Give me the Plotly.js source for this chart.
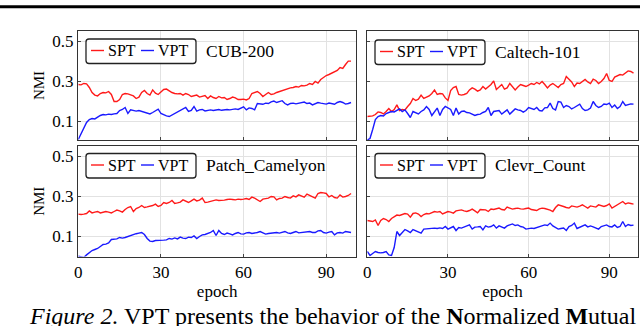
<!DOCTYPE html>
<html>
<head>
<meta charset="utf-8">
<script src="https://cdn.plot.ly/plotly-3.0.1.min.js"></script>
<style>
  html, body { margin: 0; padding: 0; background: #fff; }
  #chart { width: 640px; height: 326px; }
</style>
</head>
<body>
<div id="chart"></div>
<script>
// ---------------- DATA ----------------
const epochs = Array.from({length: 100}, (_, i) => i);
const xTickVals = [0, 30, 60, 90];
const xTickText = ['0', '30', '60', '90'];
const yTickVals = [0.1, 0.3, 0.5];
const yTickText = ['0.1', '0.3', '0.5'];
const seriesNames = ['SPT', 'VPT'];
const datasetNames = ['CUB-200', 'Caltech-101', 'Patch_Camelyon', 'Clevr_Count'];

const cubSPT = [0.285,0.283,0.29,0.288,0.27,0.245,0.232,0.228,0.24,0.245,0.243,0.25,0.235,0.2,0.2,0.21,0.235,0.24,0.238,0.232,
0.228,0.215,0.222,0.245,0.255,0.24,0.232,0.258,0.242,0.235,0.25,0.26,0.262,0.252,0.245,0.24,0.238,0.24,0.232,0.24,
0.235,0.225,0.228,0.232,0.222,0.225,0.23,0.215,0.228,0.22,0.215,0.225,0.218,0.22,0.21,0.215,0.222,0.218,0.21,0.21,
0.212,0.208,0.215,0.24,0.245,0.25,0.24,0.225,0.235,0.245,0.235,0.238,0.245,0.25,0.255,0.258,0.262,0.268,0.27,0.275,
0.272,0.28,0.278,0.282,0.29,0.285,0.3,0.292,0.31,0.322,0.33,0.335,0.342,0.348,0.355,0.37,0.365,0.385,0.402,0.402];
const cubVPT = [0.01,0.04,0.068,0.095,0.11,0.115,0.113,0.122,0.13,0.135,0.133,0.137,0.135,0.138,0.14,0.155,0.16,0.17,0.14,0.158,
0.155,0.152,0.155,0.15,0.148,0.142,0.138,0.145,0.155,0.162,0.14,0.133,0.128,0.125,0.132,0.138,0.148,0.155,0.16,0.17,
0.15,0.155,0.175,0.152,0.158,0.16,0.153,0.156,0.158,0.155,0.158,0.16,0.156,0.158,0.16,0.158,0.162,0.163,0.16,0.168,
0.173,0.158,0.168,0.165,0.158,0.19,0.188,0.186,0.192,0.19,0.198,0.202,0.195,0.2,0.204,0.19,0.183,0.19,0.192,0.188,
0.19,0.195,0.197,0.19,0.192,0.183,0.19,0.195,0.192,0.19,0.187,0.192,0.19,0.186,0.195,0.2,0.195,0.187,0.19,0.195];

const calSPT = [0.125,0.127,0.128,0.135,0.148,0.145,0.138,0.15,0.165,0.15,0.16,0.183,0.155,0.16,0.158,0.175,0.19,0.215,0.205,0.212,
0.232,0.215,0.22,0.228,0.24,0.258,0.235,0.24,0.238,0.218,0.205,0.255,0.27,0.275,0.235,0.232,0.235,0.24,0.258,0.268,
0.262,0.252,0.258,0.275,0.262,0.272,0.285,0.303,0.26,0.272,0.285,0.262,0.268,0.29,0.275,0.258,0.272,0.285,0.28,0.275,
0.282,0.29,0.285,0.295,0.288,0.3,0.285,0.268,0.282,0.29,0.28,0.27,0.285,0.29,0.325,0.31,0.298,0.275,0.292,0.29,
0.3,0.31,0.298,0.29,0.312,0.305,0.29,0.3,0.315,0.34,0.305,0.3,0.322,0.33,0.335,0.332,0.345,0.353,0.35,0.342];
const calVPT = [0.008,0.015,0.06,0.11,0.125,0.13,0.128,0.14,0.145,0.15,0.148,0.155,0.163,0.15,0.158,0.14,0.12,0.15,0.142,0.138,
0.15,0.158,0.175,0.16,0.13,0.152,0.167,0.13,0.16,0.175,0.168,0.16,0.13,0.167,0.137,0.15,0.152,0.145,0.143,0.138,
0.13,0.135,0.137,0.145,0.15,0.17,0.13,0.15,0.153,0.155,0.137,0.148,0.158,0.137,0.152,0.163,0.158,0.155,0.147,0.155,
0.17,0.163,0.16,0.17,0.155,0.153,0.168,0.17,0.192,0.165,0.158,0.2,0.197,0.17,0.18,0.175,0.163,0.17,0.178,0.187,
0.165,0.155,0.158,0.167,0.2,0.18,0.17,0.175,0.187,0.185,0.192,0.17,0.182,0.165,0.175,0.2,0.18,0.185,0.188,0.187];

const patSPT = [0.212,0.21,0.212,0.215,0.228,0.218,0.222,0.225,0.218,0.22,0.225,0.222,0.218,0.225,0.232,0.228,0.222,0.235,0.245,0.25,
0.225,0.24,0.245,0.255,0.245,0.248,0.25,0.255,0.262,0.25,0.255,0.27,0.265,0.27,0.28,0.265,0.268,0.272,0.283,0.275,
0.27,0.278,0.287,0.278,0.282,0.292,0.27,0.272,0.275,0.28,0.283,0.28,0.28,0.282,0.285,0.287,0.285,0.283,0.287,0.285,
0.287,0.29,0.285,0.297,0.292,0.285,0.275,0.287,0.29,0.292,0.3,0.298,0.283,0.29,0.292,0.3,0.295,0.292,0.303,0.298,
0.308,0.302,0.297,0.312,0.305,0.302,0.292,0.315,0.32,0.318,0.315,0.298,0.305,0.295,0.292,0.308,0.297,0.3,0.305,0.315];
const patVPT = [0.002,0.0,-0.005,0.008,0.02,0.03,0.035,0.04,0.05,0.06,0.062,0.068,0.085,0.087,0.088,0.095,0.092,0.095,0.1,0.105,
0.112,0.114,0.117,0.12,0.11,0.09,0.077,0.075,0.08,0.08,0.079,0.082,0.083,0.09,0.087,0.093,0.088,0.097,0.092,0.09,
0.097,0.095,0.103,0.09,0.1,0.108,0.11,0.115,0.12,0.13,0.105,0.13,0.115,0.11,0.117,0.113,0.108,0.115,0.12,0.113,
0.112,0.118,0.12,0.115,0.117,0.12,0.125,0.118,0.112,0.115,0.117,0.118,0.12,0.117,0.12,0.125,0.118,0.115,0.12,0.125,
0.118,0.12,0.12,0.122,0.125,0.12,0.12,0.128,0.13,0.12,0.117,0.122,0.125,0.108,0.118,0.12,0.117,0.125,0.122,0.12];

const cleSPT = [0.18,0.178,0.175,0.183,0.155,0.18,0.19,0.185,0.175,0.19,0.2,0.207,0.205,0.21,0.215,0.212,0.197,0.215,0.218,0.212,
0.2,0.21,0.215,0.213,0.218,0.225,0.222,0.225,0.213,0.22,0.225,0.222,0.217,0.228,0.23,0.233,0.228,0.225,0.23,0.237,
0.228,0.218,0.235,0.235,0.233,0.225,0.237,0.235,0.24,0.242,0.235,0.233,0.247,0.24,0.237,0.24,0.242,0.238,0.237,0.24,
0.242,0.235,0.233,0.23,0.238,0.242,0.24,0.237,0.232,0.225,0.245,0.258,0.255,0.25,0.245,0.242,0.253,0.25,0.247,0.252,
0.258,0.25,0.242,0.253,0.25,0.247,0.258,0.252,0.25,0.255,0.263,0.242,0.25,0.255,0.267,0.275,0.263,0.268,0.265,0.262];
const cleVPT = [0.025,0.005,0.015,0.025,0.02,0.018,0.02,0.025,0.008,0.005,0.045,0.125,0.105,0.12,0.135,0.128,0.12,0.135,0.13,0.125,
0.117,0.137,0.138,0.142,0.14,0.142,0.14,0.143,0.14,0.15,0.137,0.145,0.15,0.13,0.145,0.142,0.147,0.15,0.158,0.137,
0.147,0.148,0.15,0.133,0.153,0.147,0.15,0.158,0.142,0.153,0.148,0.142,0.153,0.158,0.163,0.155,0.158,0.15,0.147,0.137,
0.14,0.142,0.14,0.145,0.15,0.155,0.158,0.155,0.167,0.153,0.145,0.137,0.14,0.142,0.13,0.15,0.155,0.167,0.14,0.145,
0.15,0.158,0.148,0.153,0.148,0.142,0.137,0.15,0.155,0.158,0.15,0.148,0.158,0.145,0.15,0.175,0.15,0.16,0.155,0.157];

// ---------------- LAYOUT HELPERS ----------------
const W = 640, H = 326;
const px = x => x / W;
const py = y => 1 - y / H;
const FONT = 'Liberation Serif, Times New Roman, serif';
const RED = '#ff1a1a', BLUE = '#1a1aff';

const panels = [
  {spt: cubSPT, vpt: cubVPT, xa: 'x',  ya: 'y',  name: datasetNames[0], bx: 86,  by: 39},
  {spt: calSPT, vpt: calVPT, xa: 'x2', ya: 'y2', name: datasetNames[1], bx: 375, by: 40},
  {spt: patSPT, vpt: patVPT, xa: 'x3', ya: 'y3', name: datasetNames[2], bx: 86,  by: 153.5},
  {spt: cleSPT, vpt: cleVPT, xa: 'x4', ya: 'y4', name: datasetNames[3], bx: 375, by: 153.5}
];

const traces = [];
panels.forEach(p => {
  traces.push({x: epochs, y: p.spt, xaxis: p.xa, yaxis: p.ya, type: 'scatter', mode: 'lines',
    name: seriesNames[0], line: {color: RED, width: 1.4}, showlegend: false});
  traces.push({x: epochs, y: p.vpt, xaxis: p.xa, yaxis: p.ya, type: 'scatter', mode: 'lines',
    name: seriesNames[1], line: {color: BLUE, width: 1.4}, showlegend: false});
});

function xAxis(domain, range, anchor, showLabels, title) {
  const a = {
    domain: domain, range: range, anchor: anchor,
    tickvals: xTickVals, ticktext: xTickText, showticklabels: showLabels,
    ticks: 'inside', ticklen: 3, tickcolor: '#444', tickwidth: 1,
    showgrid: true, gridcolor: '#e2e2e2', gridwidth: 1, zeroline: false,
    showline: true, linecolor: '#333', linewidth: 1.3, mirror: true,
    tickfont: {family: FONT, size: 17, color: '#000'}
  };
  if (title) a.title = {text: title, font: {family: FONT, size: 17, color: '#000'}, standoff: 1};
  return a;
}
function yAxis(domain, range, anchor, showLabels, title) {
  const a = {
    domain: domain, range: range, anchor: anchor,
    tickvals: yTickVals, ticktext: yTickText, showticklabels: showLabels,
    ticks: 'inside', ticklen: 3, tickcolor: '#444', tickwidth: 1,
    showgrid: true, gridcolor: '#e2e2e2', gridwidth: 1, zeroline: false,
    showline: true, linecolor: '#333', linewidth: 1.3, mirror: true,
    tickfont: {family: FONT, size: 17, color: '#000'}
  };
  if (title) a.title = {text: title, font: {family: FONT, size: 15, color: '#000'}, standoff: 4};
  return a;
}

const leftDom = [px(78.3), px(356)];
const rightDom = [px(367.3), px(637.7)];
const topDom = [py(140), py(31)];
const botDom = [py(256.5), py(146)];
const topRange = [0.0075, 0.5525];
const botRange = [0.0, 0.5525];
const leftRange = [0, 100.8];
const rightRange = [0, 100.56];

// legend-like boxes, drawn as shapes + annotations
const shapes = [];
const annotations = [];
function roundRect(x0, y0, x1, y1, r) {
  const X = v => px(v).toFixed(5), Y = v => py(v).toFixed(5);
  return `M${X(x0 + r)},${Y(y0)} L${X(x1 - r)},${Y(y0)} Q${X(x1)},${Y(y0)} ${X(x1)},${Y(y0 + r)} ` +
         `L${X(x1)},${Y(y1 - r)} Q${X(x1)},${Y(y1)} ${X(x1 - r)},${Y(y1)} L${X(x0 + r)},${Y(y1)} ` +
         `Q${X(x0)},${Y(y1)} ${X(x0)},${Y(y1 - r)} L${X(x0)},${Y(y0 + r)} Q${X(x0)},${Y(y0)} ${X(x0 + r)},${Y(y0)} Z`;
}
panels.forEach(p => {
  const bx = p.bx, by = p.by, bw = 110, bh = 24.5;
  shapes.push({type: 'path', xref: 'paper', yref: 'paper', path: roundRect(bx, by, bx + bw, by + bh, 3),
    line: {color: '#222', width: 1.3}, fillcolor: 'rgba(255,255,255,0.9)'});
  const ly = by + 11.5;
  shapes.push({type: 'line', xref: 'paper', yref: 'paper', x0: px(bx + 5), x1: px(bx + 18), y0: py(ly), y1: py(ly),
    line: {color: RED, width: 1.4}});
  shapes.push({type: 'line', xref: 'paper', yref: 'paper', x0: px(bx + 55), x1: px(bx + 68), y0: py(ly), y1: py(ly),
    line: {color: BLUE, width: 1.4}});
  annotations.push({xref: 'paper', yref: 'paper', x: px(bx + 20), y: py(ly + 0.5), xanchor: 'left', yanchor: 'middle',
    text: seriesNames[0], showarrow: false, font: {family: FONT, size: 16, color: '#000'}});
  annotations.push({xref: 'paper', yref: 'paper', x: px(bx + 70), y: py(ly + 0.5), xanchor: 'left', yanchor: 'middle',
    text: seriesNames[1], showarrow: false, font: {family: FONT, size: 16, color: '#000'}});
  annotations.push({xref: 'paper', yref: 'paper', x: px(bx + 118), y: py(ly + 0.5), xanchor: 'left', yanchor: 'middle',
    text: p.name, showarrow: false, font: {family: FONT, size: 17.5, color: '#000'}});
});

// header rule (page context) and caption
shapes.push({type: 'rect', xref: 'paper', yref: 'paper', x0: 0, x1: 1, y0: py(8.2), y1: py(5.3),
  fillcolor: '#000', line: {width: 0}});
annotations.push({xref: 'paper', yref: 'paper', x: px(27), y: py(316), xanchor: 'left', yanchor: 'middle',
  text: '<i>Figure 2.</i> VPT presents the behavior of the <b>N</b>ormalized <b>M</b>utual',
  showarrow: false, font: {family: FONT, size: 24, color: '#000'}});

const layout = {
  width: W, height: H,
  margin: {l: 0, r: 0, t: 0, b: 0},
  paper_bgcolor: '#fff', plot_bgcolor: '#fff',
  showlegend: false,
  xaxis:  xAxis(leftDom,  leftRange,  'y',  false, null),
  yaxis:  yAxis(topDom,   topRange,   'x',  true,  'NMI'),
  xaxis2: xAxis(rightDom, rightRange, 'y2', false, null),
  yaxis2: yAxis(topDom,   topRange,   'x2', false, null),
  xaxis3: xAxis(leftDom,  leftRange,  'y3', true,  'epoch'),
  yaxis3: yAxis(botDom,   botRange,   'x3', true,  'NMI'),
  xaxis4: xAxis(rightDom, rightRange, 'y4', true,  'epoch'),
  yaxis4: yAxis(botDom,   botRange,   'x4', false, null),
  shapes: shapes,
  annotations: annotations
};

Plotly.newPlot('chart', traces, layout, {displayModeBar: false, staticPlot: true});
</script>
</body>
</html>
